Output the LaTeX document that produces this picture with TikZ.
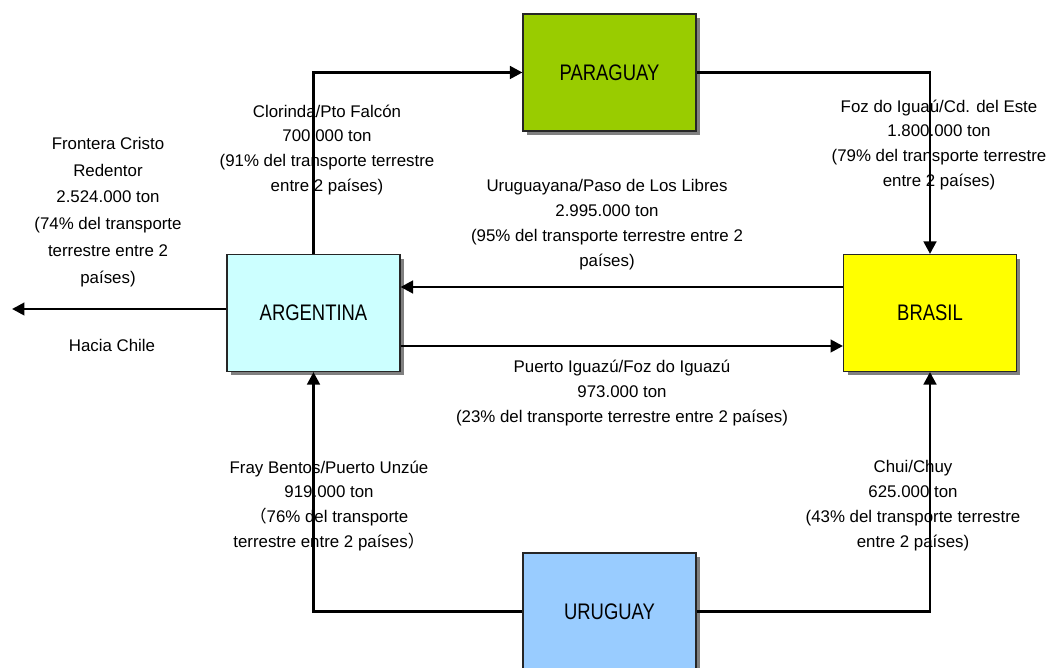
\documentclass[tikz,border=0pt]{standalone}
\usepackage{fontspec}
\setmainfont{Liberation Sans}
\newfontfamily\cjk{Noto Sans CJK SC}
\newfontfamily\boxfont[FakeStretch=0.82]{Liberation Sans}
\usetikzlibrary{arrows.meta,shadows}
\definecolor{parcol}{HTML}{99CC00}
\definecolor{argcol}{HTML}{CCFFFF}
\definecolor{bracol}{HTML}{FFFF00}
\definecolor{urucol}{HTML}{99CCFF}
\begin{document}
\begin{tikzpicture}[
  x=0.02cm, y=-0.02cm,
  box/.style={draw=black!85, line width=0.6pt, minimum width=3.46cm, minimum height=2.34cm, inner sep=0pt,
    font=\boxfont\fontsize{12.8}{14}\selectfont,
    drop shadow={shadow xshift=0.08cm, shadow yshift=-0.08cm, fill=black!50, opacity=1}},
  lbl/.style={align=center, inner sep=0pt, font=\fontsize{9.6}{14.2}\selectfont},
  arrow/.style={-{Triangle[length=2.5mm, width=2.5mm]}, line width=1.6pt}
]
\useasboundingbox (0,0) rectangle (1048,668);

\node[box, fill=parcol] (par) at (609.5,72.5) {PARAGUAY};
\node[box, fill=argcol] (arg) at (313.5,313) {ARGENTINA};
\node[box, fill=bracol] (bra) at (930,313) {BRASIL};
\node[box, fill=urucol] (uru) at (609.5,611.5) {URUGUAY};
\coordinate (chile) at (12,309);

\node[lbl, font=\fontsize{9.6}{15.3}\selectfont] (cristo) at (108,212) {Frontera Cristo\\Redentor\\2.524.000 ton\\(74\% del transporte\\terrestre entre 2\\países)};
\node[lbl] (hacia) at (112,345) {Hacia Chile};
\node[lbl] (clorinda) at (327,150) {Clorinda/Pto Falcón\\700.000 ton\\(91\% del transporte terrestre\\entre 2 países)};
\node[lbl] (foz) at (939,145) {Foz do Iguaú/Cd. del Este\\1.800.000 ton\\(79\% del transporte terrestre\\entre 2 países)};
\node[lbl] (urgy) at (607,225) {Uruguayana/Paso de Los Libres\\2.995.000 ton\\(95\% del transporte terrestre entre 2\\países)};
\node[lbl] (ptoig) at (622,393) {Puerto Iguazú/Foz do Iguazú\\973.000 ton\\(23\% del transporte terrestre entre 2 países)};
\node[lbl] (fray) at (329,506) {Fray Bentos/Puerto Unzúe\\919.000 ton\\{\cjk （}76\% del transporte\\terrestre entre 2 países{\cjk ）}};
\node[lbl] (chui) at (913,506) {Chui/Chuy\\625.000 ton\\(43\% del transporte terrestre\\entre 2 países)};

\draw[arrow] (arg.north) |- (par.west);
\draw[arrow] (par.east) -| (bra.north);
\draw[arrow] (bra.west |- 0,287) -- (arg.east |- 0,287);
\draw[arrow] (arg.east |- 0,346) -- (bra.west |- 0,346);
\draw[arrow] (arg.west |- chile) -- (chile);
\draw[arrow] (uru.west) -| (arg.south);
\draw[arrow] (uru.east) -| (bra.south);
\end{tikzpicture}
\end{document}
